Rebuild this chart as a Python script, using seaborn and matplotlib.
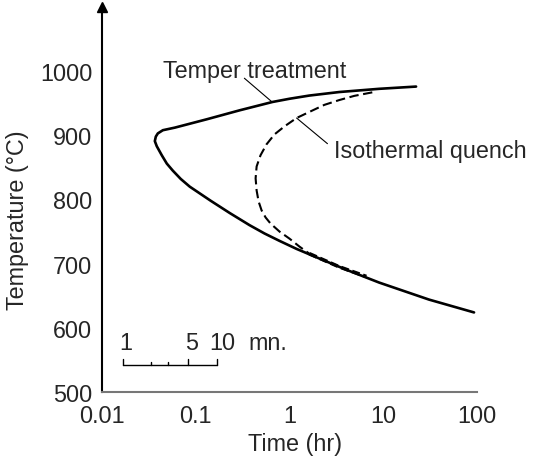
import matplotlib
matplotlib.use("Agg")
import matplotlib.pyplot as plt
import seaborn as sns

# ---- data ----
temper_time = [22.4, 9.06, 3.40, 1.63, 1.0, 0.659, 0.294, 0.131, 0.0598, 0.0446, 0.0394,
               0.0375, 0.0366, 0.0384, 0.0434, 0.0491, 0.0569, 0.0692, 0.0863, 0.1445,
               0.230, 0.375, 0.542, 0.783, 1.19, 1.76, 4.04, 9.06, 30.8, 93]
temper_temp = [976, 972.5, 967.5, 962, 957, 952, 939, 925, 912, 908, 903,
               898, 891, 883, 869, 856, 845, 832, 820, 798,
               779, 760, 747, 735.5, 723, 712.5, 690.5, 670.5, 644, 624]

iso_time = [7.64, 4.91, 3.40, 2.355, 1.714, 1.19, 0.885, 0.692, 0.569, 0.491, 0.446,
            0.435, 0.446, 0.468, 0.504, 0.556, 0.628, 0.783, 1.0, 1.28, 1.63]
iso_temp = [967, 961.5, 955, 947.5, 938, 927, 914, 901.5, 886, 869, 851.5,
            833, 814, 797, 783, 772, 762.5, 750, 739, 726.5, 715.5]

iso_heavy_time = [1.63, 3.4, 6.6]
iso_heavy_temp = [715.5, 695, 680]

x_ticks = [0.01, 0.1, 1, 10, 100]
x_tick_labels = ["0.01", "0.1", "1", "10", "100"]
y_ticks = [500, 600, 700, 800, 900, 1000]

scale_minutes = [1, 2, 3, 5, 10]
scale_labels = {1: "1", 5: "5", 10: "10"}

# ---- style ----
sns.set_style("white")
plt.rcParams["font.family"] = ["Liberation Sans", "DejaVu Sans"]
FS = 16.8

fig = plt.figure(figsize=(5.35, 4.60), dpi=100)
W, H = 535, 460
ax = fig.add_axes([102 / W, 1 - 393 / H, (477 - 102) / W, (393 - 8) / H])

sns.lineplot(x=temper_time, y=temper_temp, sort=False, estimator=None,
             color="black", lw=1.9, ax=ax)
ax.lines[-1].set_solid_joinstyle("round")
sns.lineplot(x=iso_time, y=iso_temp, sort=False, estimator=None,
             color="black", lw=1.5, ax=ax)
ax.lines[-1].set_dashes([4.5, 2.2])
sns.lineplot(x=iso_heavy_time, y=iso_heavy_temp, sort=False, estimator=None,
             color="black", lw=2.6, ax=ax)
ax.lines[-1].set_dashes([2.2, 1.0])

ax.set_xscale("log")
ax.set_xlim(0.01, 100)
ax.set_ylim(500, 1100)
ax.set_xticks(x_ticks)
ax.set_xticklabels(x_tick_labels)
ax.minorticks_off()
ax.set_yticks(y_ticks)
ax.set_yticklabels([str(v) for v in y_ticks])
ax.tick_params(axis="x", length=0, pad=8.5, labelsize=FS)
ax.tick_params(axis="y", direction="in", length=8, width=1, pad=7, labelsize=FS)
ax.set_xlabel("")
ax.set_ylabel("")

for s in ["top", "right"]:
    ax.spines[s].set_visible(False)
ax.spines["left"].set_color("black")
ax.spines["left"].set_linewidth(1.5)
ax.spines["bottom"].set_color("#777777")
ax.spines["bottom"].set_linewidth(1.5)

# arrow at the top of the y axis
ax.plot([0], [1], marker="^", color="black", markersize=7,
        transform=ax.transAxes, clip_on=False)

# annotations
ax.text(0.0446, 991, "Temper treatment", fontsize=FS, ha="left", va="baseline")
ax.plot([0.33, 0.64], [989, 953], color="black", lw=0.8)
ax.text(3.0, 866, "Isothermal quench", fontsize=FS, ha="left", va="baseline",
        clip_on=False)
ax.plot([1.19, 2.54], [927, 887], color="black", lw=0.8)

# minute scale bar
bar_y = 542
label_shift = {1: 3, 5: 3, 10: 6}
mins_hr = [m / 60 for m in scale_minutes]
ax.plot([mins_hr[0], mins_hr[-1]], [bar_y, bar_y], color="black", lw=1.0)
for m, h in zip(scale_minutes, mins_hr):
    top = 552 if m in scale_labels else 547
    ax.plot([h, h], [bar_y, top], color="black", lw=1.0)
    if m in scale_labels:
        ax.annotate(scale_labels[m], xy=(h, 577), xytext=(label_shift[m], 0),
                    textcoords="offset pixels", fontsize=FS,
                    ha="center", va="center")
ax.text(0.366, 577, "mn.", fontsize=FS, ha="left", va="center")

fig.text(295 / W, 1 - 445 / H, "Time (hr)", fontsize=FS, ha="center", va="center")
fig.text(18 / W, 1 - 220 / H, "Temperature (°C)", fontsize=FS, ha="center",
         va="center", rotation=90)

fig.savefig("out.png", dpi=100)
